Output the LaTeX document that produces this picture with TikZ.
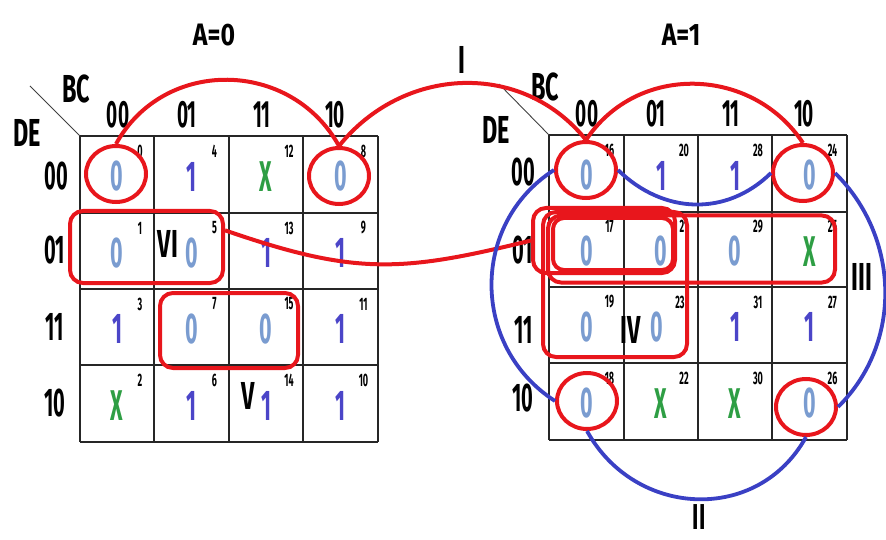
\documentclass[tikz,border=0pt]{standalone}
\usepackage{fontspec}
\newfontfamily\agency{Fira Sans}[FakeStretch=0.6]
\newfontfamily\agencynarrow{Fira Sans}[FakeStretch=0.5]
\newfontfamily\agencywide{Fira Sans}[FakeStretch=0.8]
\usetikzlibrary{shapes.geometric}

\definecolor{kc0}{HTML}{7A9CD0}
\definecolor{kc1}{HTML}{4B45C8}
\definecolor{kcX}{HTML}{2E9E44}
\definecolor{loopred}{HTML}{E8161C}
\definecolor{loopblue}{HTML}{3A40C4}

\begin{document}
\begin{tikzpicture}[x=1pt,y=-1pt,
  gridline/.style={line width=1.6pt,black!85},
  diagline/.style={line width=0.9pt,black!75},
  head/.style={inner sep=0pt,font=\agencywide\bfseries\fontsize{31}{31}\selectfont},
  axis/.style={inner sep=0pt,font=\agency\bfseries\fontsize{39}{39}\selectfont},
  collbl/.style={inner sep=0pt,font=\agencynarrow\bfseries\fontsize{38}{38}\selectfont},
  rowlbl/.style={inner sep=0pt,font=\agencynarrow\bfseries\fontsize{40}{40}\selectfont},
  kval/.style={inner sep=0pt,font=\agencynarrow\bfseries\fontsize{43}{43}\selectfont},
  num/.style={inner sep=0pt,font=\agencynarrow\bfseries\fontsize{18}{18}\selectfont},
  roman/.style={inner sep=0pt,font=\agency\bfseries\fontsize{39}{39}\selectfont},
  redloop/.style={line width=4pt,draw=loopred},
  blueloop/.style={line width=3.8pt,draw=loopblue},
  circ/.style={ellipse,redloop,minimum width=60pt,minimum height=56pt,inner sep=0pt},
  redbox/.style={rectangle,redloop,rounded corners=13pt,inner sep=0pt}]

\useasboundingbox (0,0) rectangle (886,540);

% ---------- headings ----------
\node[head] (h0) at (214,35) {A=0};
\node[head] (h1) at (681,35) {A=1};

% ---------- left map (A=0) ----------
\coordinate (Ltl) at (80,136);
\coordinate (Ld) at (30,86);
\draw[diagline] (Ld) -- (Ltl);
\node[axis] (Lbc) at (76,89) {BC};
\node[axis] (Lde) at (27,133) {DE};
\foreach \xx in {80,154,229,303,378} \draw[gridline] (\xx,136) -- (\xx,442);
\foreach \yy in {136,213,289,365,442} \draw[gridline] (80,\yy) -- (378,\yy);
\node[collbl] (Lc1) at (118,115) {00};
\node[collbl] (Lc2) at (187,115) {01};
\node[collbl] (Lc3) at (262,115) {11};
\node[collbl] (Lc4) at (335,115) {10};
\node[rowlbl] (Lr1) at (56,176) {00};
\node[rowlbl] (Lr2) at (55,250) {01};
\node[rowlbl] (Lr3) at (55,327) {11};
\node[rowlbl] (Lr4) at (55,403) {10};

% ---------- right map (A=1) ----------
\coordinate (Rtl) at (549,135);
\coordinate (Rd) at (499,84);
\draw[diagline] (Rd) -- (Rtl);
\node[axis] (Rbc) at (545,87) {BC};
\node[axis] (Rde) at (496,130) {DE};
\foreach \xx in {549,624,698,772,847} \draw[gridline] (\xx,135) -- (\xx,440);
\foreach \yy in {135,212,287,363,440} \draw[gridline] (549,\yy) -- (847,\yy);
\node[collbl] (Rc1) at (587,114) {00};
\node[collbl] (Rc2) at (656,114) {01};
\node[collbl] (Rc3) at (731,114) {11};
\node[collbl] (Rc4) at (804,114) {10};
\node[rowlbl] (Rr1) at (523,172) {00};
\node[rowlbl] (Rr2) at (523,250) {01};
\node[rowlbl] (Rr3) at (524,330) {11};
\node[rowlbl] (Rr4) at (523,398) {10};

% ---------- cell entries: x / y / value / minterm ----------
\foreach \cx/\cy/\kv/\kn in {
  117/174.5/0/0, 191.5/174.5/1/4, 266/174.5/X/12, 340.5/174.5/0/8,
  117/251/0/1, 191.5/251/0/5, 266/251/1/13, 340.5/251/1/9,
  117/327/1/3, 191.5/327/0/7, 266/327/0/15, 340.5/327/1/11,
  117/403.5/X/2, 191.5/403.5/1/6, 266/403.5/1/14, 340.5/403.5/1/10,
  586.5/173.5/0/16, 661/173.5/1/20, 735/173.5/1/28, 809.5/173.5/0/24,
  586.5/249.5/0/17, 661/249.5/0/21, 735/249.5/0/29, 809.5/249.5/X/25,
  586.5/325/0/19, 657/325/0/23, 735/325/1/31, 809.5/325/1/27,
  586.5/401.5/0/18, 661/401.5/X/22, 735/401.5/X/30, 809.5/401.5/0/26}{
  \node[kval,text=kc\kv] (v\kn) at (\cx,\cy+2) {\kv};
  \node[num] (n\kn) at (\cx+23,\cy-23) {\kn};
}

% ---------- group labels ----------
\node[roman] (gI) at (462,60) {I};
\node[roman,font=\agency\bfseries\fontsize{36}{36}\selectfont] (gII) at (699,517) {II};
\node[roman] (gIII) at (862,277) {III};
\node[roman] (gIV) at (631,330) {IV};
\node[roman] (gV) at (248,396) {V};
\node[roman] (gVI) at (168,244) {VI};

% ---------- red groupings ----------
\node[circ] (c0) at (116,174) {};
\node[circ] (c8) at (339,176) {};
\node[circ] (c16) at (586,170) {};
\node[circ] (c24) at (803,173) {};
\node[circ] (c18) at (587,401) {};
\node[circ] (c26) at (806,407) {};

\node[redbox,minimum width=153pt,minimum height=72pt] (rVI) at (146.5,247) {};
\node[redbox,minimum width=138pt,minimum height=75pt] (rSeven) at (229,330.5) {};
\node[redbox,minimum width=142pt,minimum height=65pt] (rA) at (604,240.5) {};
\node[redbox,minimum width=120pt,minimum height=52pt,rounded corners=11pt] (rIn) at (613,244) {};
\node[redbox,minimum width=287pt,minimum height=67pt] (rRow) at (691.5,249) {};
\node[redbox,minimum width=144pt,minimum height=145pt] (rIV) at (615,284.5) {};

\draw[redloop] (c0.north) .. controls +(48,-87) and +(-48,-87) .. (c8.north);
\draw[redloop] (c8.north) .. controls +(64,-80) and +(-64,-80) .. (c16.north);
\draw[redloop] (c16.north) .. controls +(51,-77) and +(-51,-77) .. (c24.north);
\draw[redloop] (rVI.12) .. controls +(130,45) and +(-130,32) .. (rA.west);

% ---------- blue corner grouping ----------
\draw[blueloop] (c16.east) .. controls +(45,44) and +(-45,44) .. (c24.west);
\draw[blueloop] (c16.west) .. controls +(-84,54) and +(-84,-54) .. (c18.west);
\draw[blueloop] (c24.east) .. controls +(65,64) and +(65,-64) .. (c26.east);
\draw[blueloop] (c18.south) .. controls +(48,87) and +(-48,87) .. (c26.south);
\end{tikzpicture}
\end{document}
